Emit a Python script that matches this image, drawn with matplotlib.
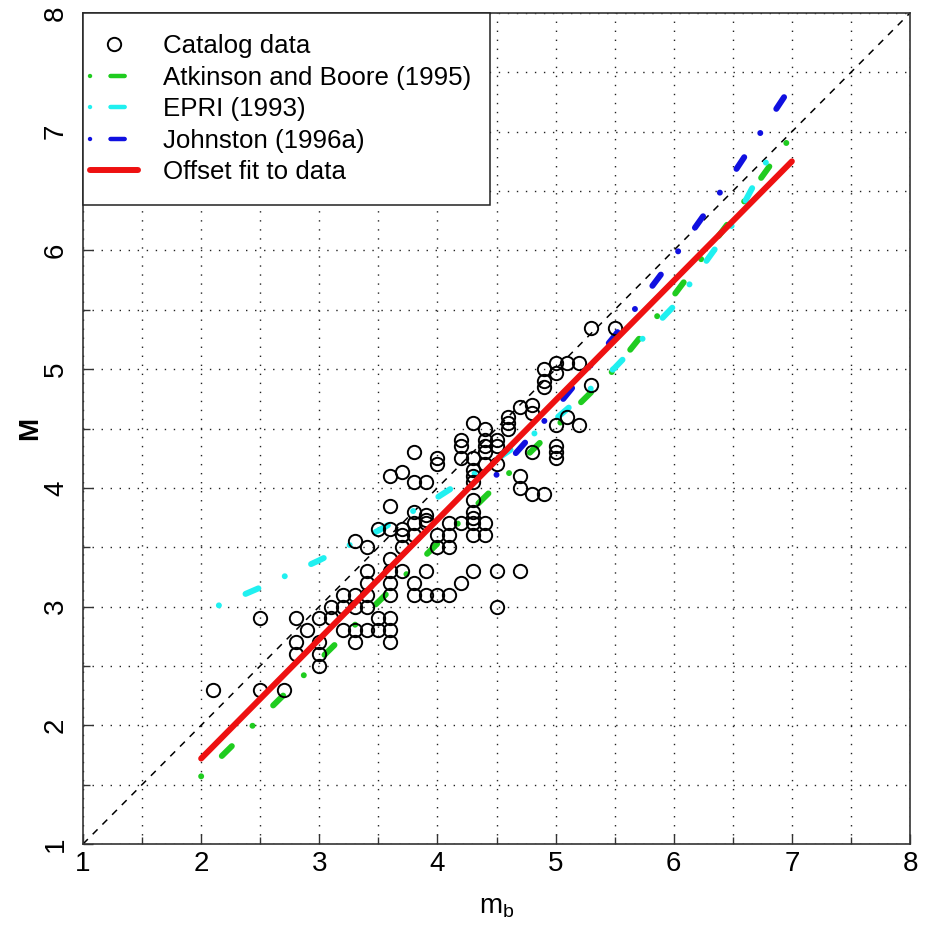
import numpy as np
import matplotlib
matplotlib.use("Agg")
import matplotlib.pyplot as plt
from matplotlib.lines import Line2D
from matplotlib.patches import Rectangle
from matplotlib.ticker import MultipleLocator

plt.rcParams['font.family'] = ['Liberation Sans', 'DejaVu Sans']

# catalog data (mb, M)
cat_mb = [2.1, 2.5, 2.7, 2.5,
          2.8, 2.8, 2.8, 2.9,
          3.0, 3.0, 3.0, 3.0,
          3.1, 3.1,
          3.2, 3.2, 3.2,
          3.3, 3.3, 3.3, 3.3,
          3.4, 3.4, 3.4, 3.4,
          3.5, 3.5,
          3.6, 3.6, 3.6,
          3.3, 3.4, 3.4, 3.5,
          3.6, 3.6, 3.6, 3.6, 3.6, 3.6, 3.6,
          3.7, 3.7, 3.7, 3.7, 3.7,
          3.8, 3.8, 3.8, 3.8, 3.8, 3.8, 3.8,
          3.9, 3.9, 3.9, 3.9, 3.9, 3.9,
          4.0, 4.0, 4.0, 4.0, 4.0,
          4.1, 4.1, 4.1, 4.1,
          4.2, 4.2, 4.2, 4.2, 4.2,
          4.3, 4.3, 4.3, 4.3, 4.3, 4.3, 4.3, 4.3, 4.3, 4.3, 4.3,
          4.4, 4.4, 4.4, 4.4, 4.4, 4.4, 4.4,
          4.5, 4.5, 4.5, 4.5, 4.5,
          4.6, 4.6, 4.6,
          4.7, 4.7, 4.7, 4.7,
          4.8, 4.8, 4.8, 4.8,
          4.9, 4.9, 4.9, 4.9,
          5.0, 5.0, 5.0, 5.0, 5.0, 5.0,
          5.1, 5.1,
          5.2, 5.2,
          5.3, 5.3,
          5.5]
cat_M = [2.3, 2.3, 2.3, 2.9,
         2.9, 2.7, 2.6, 2.8,
         2.9, 2.7, 2.6, 2.5,
         3.0, 2.9,
         3.1, 3.0, 2.8,
         3.1, 3.0, 2.8, 2.7,
         3.2, 3.1, 3.0, 2.8,
         2.9, 2.8,
         2.9, 2.8, 2.7,
         3.55, 3.5, 3.3, 3.65,
         3.65, 3.4, 3.3, 3.2, 3.1, 3.85, 4.1,
         3.65, 3.6, 3.5, 3.3, 4.13,
         3.8, 3.7, 3.6, 3.2, 3.1, 4.05, 4.3,
         3.77, 3.73, 3.7, 3.3, 3.1, 4.05,
         3.6, 3.5, 3.1, 4.25, 4.2,
         3.7, 3.6, 3.5, 3.1,
         3.7, 3.2, 4.4, 4.35, 4.25,
         3.8, 3.75, 3.6, 3.3, 3.9, 4.05, 4.1, 4.15, 4.25, 4.55, 3.7,
         3.7, 3.6, 4.2, 4.3, 4.35, 4.4, 4.5,
         3.3, 3.0, 4.2, 4.35, 4.4,
         4.5, 4.55, 4.6,
         3.3, 4.0, 4.1, 4.68,
         3.95, 4.3, 4.63, 4.7,
         3.95, 4.85, 4.9, 5.0,
         4.25, 4.3, 4.35, 4.53, 4.97, 5.05,
         4.6, 5.05,
         4.53, 5.05,
         4.87, 5.35,
         5.35]

# Atkinson and Boore (1995)
ab_mb = [2.0, 2.5, 3.0, 3.5, 4.0, 4.5, 5.0, 5.5, 6.0, 6.5, 7.0]
ab_M = [1.57, 2.06, 2.55, 3.04, 3.53, 4.02, 4.51, 5.0, 5.62, 6.28, 6.97]

# EPRI (1993)
epri_mb = [2.15, 2.5, 3.0, 3.5, 4.0, 4.5, 5.0, 5.5, 6.0, 6.5, 6.85]
epri_M = [3.01, 3.16, 3.39, 3.64, 3.92, 4.24, 4.58, 5.01, 5.53, 6.22, 6.87]

# Johnston (1996a)
jo_mb = [4.5, 5.0, 5.5, 6.0, 6.5, 7.0]
jo_M = [4.11, 4.67, 5.28, 5.94, 6.64, 7.39]

# offset fit
fit_mb = [2.0, 7.0]
fit_M = [1.72, 6.75]

one_to_one = [1, 8]

fig = plt.figure(figsize=(9.25, 9.36), dpi=100)
ax = fig.add_axes([83 / 925, 1 - 844 / 936, 827 / 925, 831 / 936])

ax.set_xlim(1, 8)
ax.set_ylim(1, 8)
ax.set_axisbelow(True)

grid_kw = dict(color='#222222', lw=1.0, linestyle=(0, (1.0, 5.5)))
ax.xaxis.set_major_locator(MultipleLocator(1))
ax.xaxis.set_minor_locator(MultipleLocator(0.5))
ax.yaxis.set_major_locator(MultipleLocator(1))
ax.yaxis.set_minor_locator(MultipleLocator(0.5))
ax.grid(True, which='both', **grid_kw)

ax.plot(one_to_one, one_to_one, color='black', lw=1.1, linestyle=(0, (4.5, 4.5)), zorder=2)

# dot-dash pattern (in line-width units)
dd = (0, (0.01, 4.85, 2.35, 4.85))
lw = 4.3
ax.plot(ab_mb, ab_M, color='#1fcc1f', lw=lw, linestyle=dd, dash_capstyle='round', zorder=3)
ax.plot(epri_mb, epri_M, color='#20f0f0', lw=lw, linestyle=dd, dash_capstyle='round', zorder=3)
ax.plot(jo_mb, jo_M, color='#1010e0', lw=lw, linestyle=dd, dash_capstyle='round', zorder=3)
ax.plot(fit_mb, fit_M, color='#ee1111', lw=4.3, solid_capstyle='round', zorder=4)

ax.plot(cat_mb, cat_M, linestyle='none', marker='o', ms=9.6, mfc='none', mec='black', mew=1.4, zorder=3.5)

# axes / ticks
for s in ax.spines.values():
    s.set_linewidth(1.2)
    s.set_color('#333333')
ax.tick_params(which='both', direction='in', top=False, right=False, color='#333333', width=1.0)
ax.tick_params(which='major', length=7, labelsize=20)
ax.tick_params(which='minor', length=5)
ax.tick_params(axis='x', pad=5)
ax.tick_params(axis='y', pad=10)
for lab in ax.get_yticklabels():
    lab.set_rotation(90)
    lab.set_va('center')

ax.set_xlabel('m$_\\mathregular{b}$', fontsize=20, labelpad=12)
ax.set_ylabel('M', fontsize=20, fontweight='bold', labelpad=0)

# legend box
ax.add_patch(Rectangle((0, 1 - 192 / 831), 407 / 827, 192 / 831, transform=ax.transAxes,
                       fc='white', ec='#222222', lw=1.1, zorder=5, clip_on=False))
leg_dd = (0, (0.01, 4.6, 3.2, 30))
handles = [
    Line2D([], [], linestyle='none', marker='o', ms=9.6, mfc='none', mec='black', mew=1.4),
    Line2D([], [], color='#1fcc1f', lw=3.2, linestyle=leg_dd, dash_capstyle='round'),
    Line2D([], [], color='#20f0f0', lw=3.2, linestyle=leg_dd, dash_capstyle='round'),
    Line2D([], [], color='#1010e0', lw=3.2, linestyle=leg_dd, dash_capstyle='round'),
    Line2D([], [], color='#ee1111', lw=4.3, solid_capstyle='round'),
]
labels = ['Catalog data', 'Atkinson and Boore (1995)', 'EPRI (1993)',
          'Johnston (1996a)', 'Offset fit to data']
leg = ax.legend(handles, labels, loc='upper left', bbox_to_anchor=(-0.0075, 0.990),
                frameon=False, borderpad=0, handlelength=1.88, handletextpad=0.96,
                labelspacing=0.29, fontsize=18.6)
leg.set_zorder(6)

fig.savefig('out.png', dpi=100)
